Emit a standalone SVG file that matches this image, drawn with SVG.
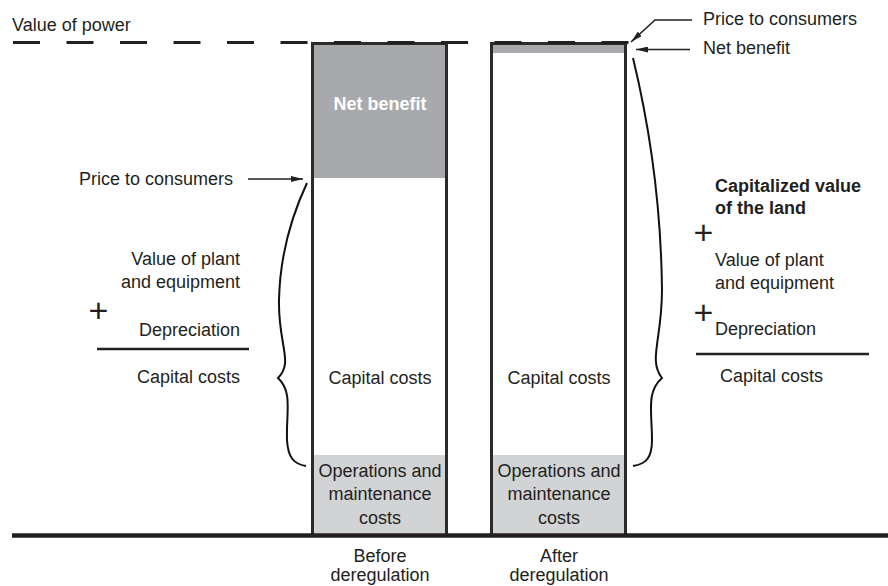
<svg xmlns="http://www.w3.org/2000/svg" width="888" height="586" viewBox="0 0 888 586">
  <style>
    text { font-family: "Liberation Sans", Arial, sans-serif; font-size: 18px; fill: #231f20; }
    .bold { font-weight: bold; }
    .mid { text-anchor: middle; }
    .end { text-anchor: end; }
    .plus { font-size: 34px; }
    .box { fill: #ffffff; stroke: #2b2b2b; stroke-width: 3; }
    .rule { stroke: #231f20; stroke-width: 2.5; }
    .lead { fill: none; stroke: #231f20; stroke-width: 1.6; }
    .brace { fill: none; stroke: #111; stroke-width: 2; }
  </style>
  <defs>
    <marker id="arrow" viewBox="0 0 12 6" refX="12" refY="3" markerWidth="12" markerHeight="6" markerUnits="userSpaceOnUse" orient="auto">
      <path d="M0,0 L12,3 L0,6 Z" fill="#231f20"/>
    </marker>
  </defs>

  <!-- before deregulation bar -->
  <g id="bar-before">
    <rect class="box" x="312.5" y="43.5" width="134" height="492"/>
    <rect x="314" y="45" width="131" height="133" fill="#a7a9ac"/>
    <rect x="314" y="455" width="131" height="80" fill="#d1d3d4"/>
    <text class="bold mid" x="380" y="110" style="fill:#ffffff">Net benefit</text>
    <text class="mid" x="380" y="384">Capital costs</text>
    <text class="mid" x="380" y="477">Operations and</text>
    <text class="mid" x="380" y="500">maintenance</text>
    <text class="mid" x="380" y="524">costs</text>
    <text class="mid" x="380" y="562">Before</text>
    <text class="mid" x="380" y="581">deregulation</text>
  </g>

  <!-- after deregulation bar -->
  <g id="bar-after">
    <rect class="box" x="491.5" y="43.5" width="134" height="492"/>
    <rect x="493" y="45" width="131" height="8" fill="#a7a9ac"/>
    <rect x="493" y="455" width="131" height="80" fill="#d1d3d4"/>
    <text class="mid" x="559" y="384">Capital costs</text>
    <text class="mid" x="559" y="477">Operations and</text>
    <text class="mid" x="559" y="500">maintenance</text>
    <text class="mid" x="559" y="524">costs</text>
    <text class="mid" x="559" y="562">After</text>
    <text class="mid" x="559" y="581">deregulation</text>
  </g>

  <!-- value of power level and ground -->
  <g id="levels">
    <line x1="13" y1="42.5" x2="640" y2="42.5" stroke="#231f20" stroke-width="3" stroke-dasharray="27 26.5"/>
    <text x="12" y="31">Value of power</text>
    <line x1="12" y1="535.5" x2="888" y2="535.5" stroke="#231f20" stroke-width="4.5"/>
  </g>

  <!-- left breakdown -->
  <g id="left-breakdown">
    <text x="79" y="185">Price to consumers</text>
    <text class="end" x="240" y="265">Value of plant</text>
    <text class="end" x="240" y="288">and equipment</text>
    <text class="plus" x="88.5" y="322">+</text>
    <text class="end" x="240" y="336">Depreciation</text>
    <line class="rule" x1="97" y1="349" x2="249" y2="349"/>
    <text class="end" x="240" y="383">Capital costs</text>
  </g>

  <!-- right breakdown -->
  <g id="right-breakdown">
    <text x="703" y="25">Price to consumers</text>
    <text x="703" y="54">Net benefit</text>
    <text class="bold" x="715" y="192">Capitalized value</text>
    <text class="bold" x="715" y="214">of the land</text>
    <text class="plus" x="693.5" y="244">+</text>
    <text x="715" y="266">Value of plant</text>
    <text x="715" y="289">and equipment</text>
    <text class="plus" x="693.5" y="324">+</text>
    <text x="715" y="335">Depreciation</text>
    <line class="rule" x1="696" y1="354" x2="869" y2="354"/>
    <text x="720" y="382">Capital costs</text>
  </g>

  <!-- leaders and braces -->
  <g id="connectors">
    <path class="lead" d="M248,179 L303,179" marker-end="url(#arrow)"/>
    <path class="lead" d="M692,20 L655,20 L631,42" marker-end="url(#arrow)"/>
    <path class="lead" d="M690,49.5 L636,49.5" marker-end="url(#arrow)"/>
    <path class="brace" d="M307,183 C292,215 280,255 279,300 C278,345 294,362 278,378 C293,392 286,412 287,440 C288,458 294,464 306,466"/>
    <path class="brace" d="M633,58 C648,120 661,200 662,290 C662,340 648,360 662,378 C646,392 652,412 652,440 C652,458 646,464 633,466"/>
  </g>
</svg>
